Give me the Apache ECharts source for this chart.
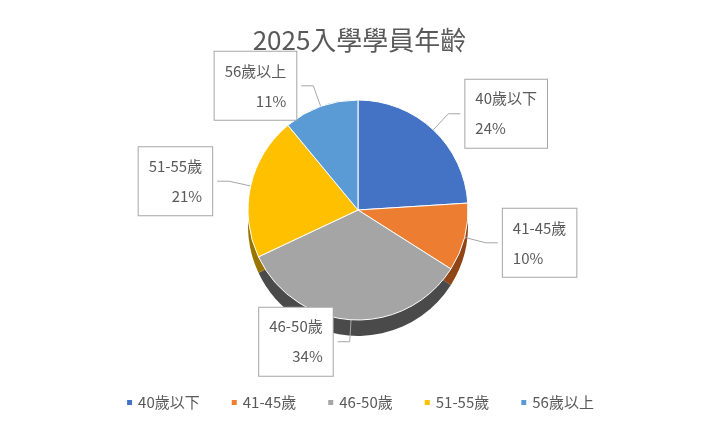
<!DOCTYPE html>
<html><head><meta charset="utf-8">
<script src="https://cdn.jsdelivr.net/npm/echarts@6/dist/echarts.min.js"></script>
<style>html,body{margin:0;padding:0;background:#fff}#c{width:719px;height:429px}</style>
</head><body><div id="c"></div>
<script>
const categories = ['40歲以下','41-45歲','46-50歲','51-55歲','56歲以上'];
const values = [24, 10, 34, 21, 11];
const colors = ['#4472C4','#ED7D31','#A5A5A5','#FFC000','#5B9BD5'];
const darkColors = ['#2a4a85','#8f4516','#4a4a4a','#9a7400','#34628c'];
const chart = echarts.init(document.getElementById('c'));
const font = '"Noto Sans CJK TC", "Noto Sans", sans-serif';
chart.setOption({
  animation:false,
  color: colors,
  title:{text:'2025入學學員年齡',left:'center',top:22,textStyle:{fontFamily:font,fontSize:26,fontWeight:'normal',color:'#595959'}},
  legend:{bottom:14,left:'center',itemWidth:7,itemHeight:7,icon:'rect',itemGap:30,
    textStyle:{fontFamily:font,fontSize:15,color:'#595959'},data:categories},
  series:[
    {type:'pie',center:[358,210],radius:[0,110],startAngle:90,z:2,
     itemStyle:{borderColor:'#fff',borderWidth:1},
     label:{formatter:'{b}\n{d}%',fontFamily:font,fontSize:15,color:'#595959',lineHeight:30,align:'center',
       backgroundColor:'#fff',borderColor:'#a6a6a6',borderWidth:1,padding:[4,10]},
     labelLine:{length:22,length2:12,lineStyle:{color:'#a6a6a6'}},
     data:values.map((v,i)=>({value:v,name:categories[i]}))},
    {type:'pie',center:[358,226],radius:[0,110],startAngle:90,silent:true,z:1,legendHoverLink:false,
     label:{show:false},labelLine:{show:false},
     data:values.map((v,i)=>({value:v,name:'d'+i,itemStyle:{color:darkColors[i]}}))}
  ]
});
</script></body></html>
